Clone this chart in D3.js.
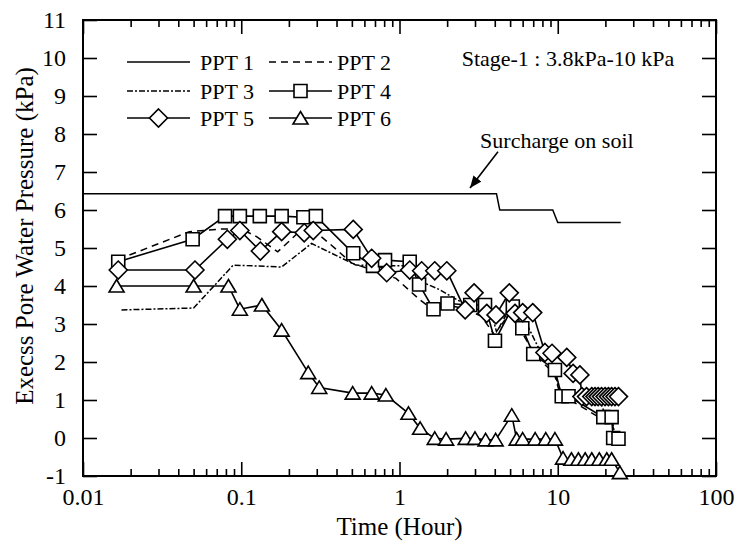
<!DOCTYPE html>
<html><head><meta charset="utf-8">
<script src="https://cdn.jsdelivr.net/npm/d3@7/dist/d3.min.js"></script>
<style>
body{margin:0;background:#fff}
svg text{font-family:"Liberation Serif","Times New Roman",serif;fill:#000}
</style>
</head><body>
<svg id="chart" width="738" height="544"></svg>
<script>
// ---- data ----
const xTickValues = [0.01, 0.1, 1, 10, 100];
const xTickLabels = ["0.01", "0.1", "1", "10", "100"];
const yTickValues = [-1, 0, 1, 2, 3, 4, 5, 6, 7, 8, 9, 10, 11];
const yTickLabels = ["-1", "0", "1", "2", "3", "4", "5", "6", "7", "8", "9", "10", "11"];
const seriesNames = ["PPT 1", "PPT 2", "PPT 3", "PPT 4", "PPT 5", "PPT 6"];

const ppt1Time  = [0.01, 4.1, 4.3, 9.3, 10, 25];
const ppt1Value = [6.43, 6.43, 6.0, 6.0, 5.67, 5.67];

const ppt2Time  = [0.0167, 0.047, 0.075, 0.1, 0.125, 0.17, 0.25, 0.28, 0.37, 0.5, 0.7, 0.95, 1.35, 1.6, 2.0, 2.6, 3.3, 4.0, 4.8, 5.8, 6.5, 7.5, 9.5, 10.5, 12, 19, 22, 23];
const ppt2Value = [4.7, 5.43, 5.5, 5.5, 5.3, 4.9, 5.55, 5.5, 5.08, 4.6, 4.4, 4.2, 3.63, 3.4, 3.5, 3.4, 3.2, 2.7, 3.3, 2.85, 2.5, 2.1, 1.7, 1.05, 1.0, 0.5, 0.45, 0.0];

const ppt3Time  = [0.0175, 0.05, 0.089, 0.18, 0.278, 0.53, 0.72, 1.11, 1.4, 1.8, 2.4, 3.0, 3.8, 4.1, 5.0, 6.2, 7.5, 9.0, 10.2, 12, 18, 20, 22, 23];
const ppt3Value = [3.37, 3.42, 4.55, 4.5, 5.12, 4.55, 4.53, 4.53, 4.1, 3.9, 3.6, 3.4, 3.3, 2.8, 3.3, 3.1, 2.4, 2.1, 1.3, 1.1, 1.1, 0.6, 0.5, 0.05];

const ppt4Time  = [0.0167, 0.0493, 0.079, 0.098, 0.131, 0.18, 0.247, 0.296, 0.51, 0.68, 0.81, 1.16, 1.33, 1.64, 2.01, 2.8, 3.47, 4.01, 5.2, 5.97, 7.0, 9.6, 10.6, 11.7, 19.4, 21.9, 22.4, 24.2];
const ppt4Value = [4.64, 5.23, 5.84, 5.84, 5.84, 5.84, 5.81, 5.84, 4.86, 4.53, 4.68, 4.64, 4.04, 3.39, 3.54, 3.5, 3.5, 2.56, 3.46, 2.89, 2.21, 1.79, 1.1, 1.1, 0.55, 0.55, 0.0, -0.02];

const ppt5Time  = [0.0167, 0.051, 0.0817, 0.098, 0.132, 0.18, 0.25, 0.285, 0.51, 0.667, 0.83, 1.16, 1.38, 1.67, 1.99, 2.6, 2.96, 3.56, 4.07, 4.94, 5.37, 6.0, 6.95, 8.3, 9.2, 11.4, 12.5, 13.8, 14.2, 15.2, 16.4, 17.2, 18.0, 18.9, 19.9, 20.9, 21.9, 23.0, 24.2];
const ppt5Value = [4.42, 4.42, 5.23, 5.46, 4.92, 5.43, 5.4, 5.46, 5.49, 4.73, 4.35, 4.42, 4.40, 4.40, 4.40, 3.37, 3.82, 3.28, 3.24, 3.82, 3.28, 3.3, 3.3, 2.25, 2.23, 2.12, 1.70, 1.66, 1.09, 1.09, 1.09, 1.09, 1.09, 1.09, 1.09, 1.09, 1.09, 1.09, 1.09];

const ppt6Time  = [0.0163, 0.050, 0.083, 0.098, 0.135, 0.18, 0.265, 0.311, 0.506, 0.667, 0.82, 1.14, 1.35, 1.67, 1.97, 2.62, 3.0, 3.5, 4.05, 5.12, 5.5, 6.0, 7.2, 8.4, 9.6, 10.8, 12.2, 13.5, 14.9, 16.4, 18.3, 20.4, 21.9, 24.7];
const ppt6Value = [4.0, 4.0, 4.0, 3.39, 3.5, 2.84, 1.72, 1.33, 1.18, 1.18, 1.13, 0.65, 0.255, -0.01, -0.03, -0.01, -0.01, -0.05, -0.05, 0.6, -0.03, -0.03, -0.03, -0.03, -0.03, -0.53, -0.56, -0.56, -0.56, -0.56, -0.56, -0.56, -0.56, -0.91];

const stageText = "Stage-1 : 3.8kPa-10 kPa";
const surchargeText = "Surcharge on soil";
const xTitle = "Time (Hour)";
const yTitle = "Execss Pore Water Pressure (kPa)";

// ---- layout ----
const FONT = '"Liberation Serif","Times New Roman",serif';
const svg = d3.select("#chart");
const L = 83, R = 716, T = 20, B = 476;
const x = d3.scaleLog().domain([0.01, 100]).range([L, R]);
const y = d3.scaleLinear().domain([-1, 11]).range([B, T]);

const minorX = [];
for (let d = 0.01; d < 100; d *= 10) for (let k = 2; k <= 9; k++) minorX.push(+(d * k).toPrecision(3));

function styleAxis(g) {
  g.attr("font-family", FONT).attr("font-size", 24);
  g.select(".domain").remove();
  g.selectAll(".tick line").attr("stroke", "#000").attr("stroke-width", 1.6);
  g.selectAll(".tick text").attr("font-family", FONT).style("font-size", "24px");
}

// bottom
svg.append("g").attr("transform", `translate(0,${B})`)
  .call(d3.axisBottom(x).tickValues(xTickValues).tickFormat((d, i) => xTickLabels[i]).tickSizeInner(-14).tickSizeOuter(0).tickPadding(12))
  .call(styleAxis);
svg.append("g").attr("transform", `translate(0,${B})`)
  .call(d3.axisBottom(x).tickValues(minorX).tickFormat("").tickSizeInner(-7).tickSizeOuter(0))
  .call(styleAxis);
// top
svg.append("g").attr("transform", `translate(0,${T})`)
  .call(d3.axisTop(x).tickValues(xTickValues).tickFormat("").tickSizeInner(-14).tickSizeOuter(0))
  .call(styleAxis);
svg.append("g").attr("transform", `translate(0,${T})`)
  .call(d3.axisTop(x).tickValues(minorX).tickFormat("").tickSizeInner(-7).tickSizeOuter(0))
  .call(styleAxis);
// left
svg.append("g").attr("transform", `translate(${L},0)`)
  .call(d3.axisLeft(y).tickValues(yTickValues).tickFormat((d, i) => yTickLabels[i]).tickSizeInner(-14).tickSizeOuter(0).tickPadding(17))
  .call(styleAxis);
// right
svg.append("g").attr("transform", `translate(${R},0)`)
  .call(d3.axisRight(y).tickValues(yTickValues).tickFormat("").tickSizeInner(-14).tickSizeOuter(0))
  .call(styleAxis);

// frame
svg.append("rect").attr("x", L).attr("y", T).attr("width", R - L).attr("height", B - T)
  .attr("fill", "none").attr("stroke", "#000").attr("stroke-width", 2);

// titles
svg.append("text").attr("x", (L + R) / 2).attr("y", 535).attr("text-anchor", "middle")
  .attr("font-family", FONT).style("font-size", "25px").text(xTitle);
svg.append("text").attr("transform", `translate(33,236) rotate(-90)`).attr("text-anchor", "middle")
  .attr("font-family", FONT).style("font-size", "25px").text(yTitle);

// ---- series ----
const zip = (t, v) => t.map((d, i) => [d, v[i]]);
const line = d3.line().x(d => x(d[0])).y(d => y(d[1]));
const plot = svg.append("g");

const series = [
  {data: zip(ppt1Time, ppt1Value), dash: null, marker: null},
  {data: zip(ppt2Time, ppt2Value), dash: "7,5", marker: null},
  {data: zip(ppt3Time, ppt3Value), dash: "6,2,2,2", marker: null},
  {data: zip(ppt4Time, ppt4Value), dash: null, marker: "square"},
  {data: zip(ppt5Time, ppt5Value), dash: null, marker: "diamond"},
  {data: zip(ppt6Time, ppt6Value), dash: null, marker: "triangle"}
];

function markerPath(type) {
  if (type === "square") return "M-6.5,-6.5H6.5V6.5H-6.5Z";
  if (type === "diamond") return "M0,-9L9,0L0,9L-9,0Z";
  if (type === "triangle") return "M0,-6.5L7.5,6L-7.5,6Z";
  return "";
}

series.forEach(s => {
  plot.append("path").datum(s.data).attr("d", line).attr("fill", "none")
    .attr("stroke", "#000").attr("stroke-width", s.marker ? 1.6 : 1.5)
    .attr("stroke-dasharray", s.dash);
});
series.forEach(s => {
  if (!s.marker) return;
  plot.selectAll(null).data(s.data).enter().append("path")
    .attr("transform", d => `translate(${x(d[0])},${y(d[1])})`)
    .attr("d", markerPath(s.marker)).attr("fill", "#fff").attr("stroke", "#000").attr("stroke-width", 1.6);
});

// ---- legend ----
const legRows = [62, 91, 118];
const legCols = [{x1: 127, x2: 190, tx: 200}, {x1: 269, x2: 332, tx: 337}];
const lg = svg.append("g");
series.forEach((s, i) => {
  const c = legCols[i % 2], r = legRows[Math.floor(i / 2)];
  lg.append("line").attr("x1", c.x1).attr("x2", c.x2).attr("y1", r).attr("y2", r)
    .attr("stroke", "#000").attr("stroke-width", 1.6).attr("stroke-dasharray", s.dash);
  if (s.marker) lg.append("path").attr("transform", `translate(${(c.x1 + c.x2) / 2},${r})`)
    .attr("d", markerPath(s.marker)).attr("fill", "#fff").attr("stroke", "#000").attr("stroke-width", 1.6);
  lg.append("text").attr("x", c.tx).attr("y", r + 8).attr("font-family", FONT).style("font-size", "22px").text(seriesNames[i]);
});

// ---- annotations ----
svg.append("text").attr("x", x(2.47)).attr("y", y(9.8)).attr("font-family", FONT).style("font-size", "22px").text(stageText);
svg.append("text").attr("x", x(3.23)).attr("y", y(7.63)).attr("font-family", FONT).style("font-size", "22px").text(surchargeText);
svg.append("defs").append("marker").attr("id", "arr").attr("viewBox", "0 0 12 10")
  .attr("refX", 12).attr("refY", 5).attr("markerWidth", 12).attr("markerHeight", 10)
  .attr("markerUnits", "userSpaceOnUse").attr("orient", "auto")
  .append("path").attr("d", "M0,0L12,5L0,10Z").attr("fill", "#000");
svg.append("line").attr("x1", x(4.19)).attr("y1", y(7.53)).attr("x2", x(2.79)).attr("y2", y(6.58))
  .attr("stroke", "#000").attr("stroke-width", 1.6).attr("marker-end", "url(#arr)");
</script>
</body></html>
